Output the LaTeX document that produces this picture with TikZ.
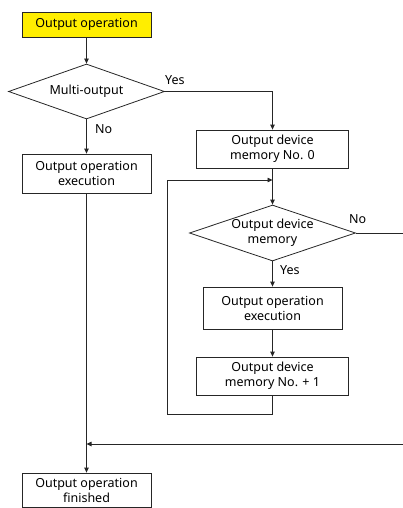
\documentclass[tikz,border=0pt]{standalone}
\usepackage{fontspec}
\setmainfont{Noto Sans}
\usetikzlibrary{shapes.geometric,arrows.meta}
\definecolor{startyellow}{RGB}{255,238,0}
\newcommand{\chartfont}{\fontsize{12.5pt}{15pt}\selectfont}
\begin{document}
\begin{tikzpicture}[x=1pt,y=-1pt,
  line/.style={draw=black!85, line width=0.8pt},
  arr/.style={line, -{Triangle[length=5pt,width=4.5pt]}},
  box/.style={rectangle, line, inner sep=0pt, align=center, font=\chartfont},
  decision/.style={diamond, line, inner sep=0pt, aspect=1},
  lbl/.style={font=\chartfont, inner sep=0pt, anchor=west}]
\useasboundingbox (0,0) rectangle (403,508);
% nodes
\node[box, fill=startyellow, minimum width=129pt, minimum height=25pt] (start) at (86.5,24.5) {Output operation};
\node[decision, minimum width=156pt, minimum height=55pt,
  label={[font=\chartfont, align=center]center:Multi-output}] (d1) at (86.5,91.5) {};
\node[box, minimum width=129pt, minimum height=39pt] (exec1) at (86.5,173.5) {Output operation\\execution};
\node[box, minimum width=152pt, minimum height=38pt] (b2) at (272.5,149) {Output device\\memory No. 0};
\node[decision, minimum width=166pt, minimum height=56pt,
  label={[font=\chartfont, align=center]center:Output device\\memory}] (d2) at (272.5,233) {};
\node[box, minimum width=139pt, minimum height=42pt] (b3) at (272.5,308) {Output operation\\execution};
\node[box, minimum width=152pt, minimum height=38pt] (b4) at (272.5,376) {Output device\\memory No. + 1};
\node[box, minimum width=129pt, minimum height=34pt] (fin) at (86.5,490) {Output operation\\finished};
% helper coordinates
\coordinate (lb) at (167,414);
\coordinate (lt) at (272.5,180);
\coordinate (re) at (406,233);
\coordinate (rb) at (406,444);
\coordinate (mj) at (86.5,444);
% connectors
\draw[arr] (start.south) -- (d1.north);
\draw[arr] (d1.east) -| (b2.north);
\draw[arr] (d1.south) -- (exec1.north);
\draw[arr] (b2.south) -- (d2.north);
\draw[arr] (d2.south) -- (b3.north);
\draw[arr] (b3.south) -- (b4.north);
\draw[arr] (b4.south) |- (lb) |- (lt);
\draw[line] (d2.east) -- (re) -- (rb);
\draw[arr] (rb) -- (mj);
\draw[arr] (exec1.south) -- (fin.north);
% labels
\node[lbl] (yes1) at (165,80) {Yes};
\node[lbl] (no1) at (95,129) {No};
\node[lbl] (yes2) at (280,270) {Yes};
\node[lbl] (no2) at (349,219) {No};
\end{tikzpicture}
\end{document}
